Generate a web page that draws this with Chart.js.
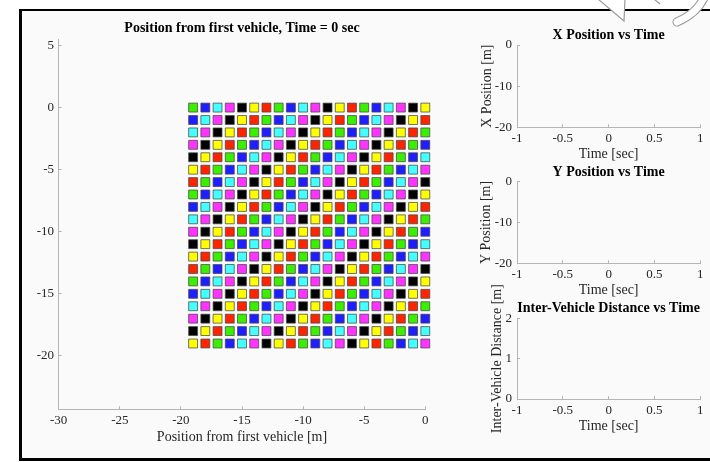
<!DOCTYPE html>
<html>
<head>
<meta charset="utf-8">
<script src="https://cdn.jsdelivr.net/npm/chart.js@4.4.0/dist/chart.umd.min.js"></script>
<style>
  html, body { margin: 0; padding: 0; }
  body { width: 710px; height: 462px; overflow: hidden; position: relative; background: #fff; }
  #frame {
    position: absolute; left: 19px; top: 9px; width: 700px; height: 447px;
    background: #fafafa;
    border-top: 2px solid #000; border-left: 3px solid #000; border-bottom: 3px solid #000;
  }
  #deco { position: absolute; left: 0; top: 0; }
  canvas { position: absolute; }
</style>
</head>
<body>
<div id="frame"></div>
<svg id="deco" width="710" height="30">
  <path d="M598,-1 L624,21 L625,-1" fill="#fff" stroke="#9a9a9a" stroke-width="1.2"/>
  <path d="M654,-1 L660,4" stroke="#9a9a9a" stroke-width="1.2"/>
  <path d="M704,-2 Q696,14 677,22" fill="none" stroke="#9a9a9a" stroke-width="9" stroke-linecap="round"/>
  <path d="M704,-2 Q696,14 677,22" fill="none" stroke="#fff" stroke-width="7" stroke-linecap="round"/>
</svg>
<canvas id="platoonChart"></canvas>
<canvas id="xPosChart"></canvas>
<canvas id="yPosChart"></canvas>
<canvas id="gapChart"></canvas>
<script>
// vehicle grid (position from first vehicle, metres)
const columnX = [-19, -18, -17, -16, -15, -14, -13, -12, -11, -10, -9, -8, -7, -6, -5, -4, -3, -2, -1, 0];
const rowY = [0, -1, -2, -3, -4, -5, -6, -7, -8, -9, -10, -11, -12, -13, -14, -15, -16, -17, -18, -19];

// marker colour of each vehicle, one string per row, read left to right
const rowColours = [
  "GBCMKYRGBCMKYRGBCMKY",
  "BCMKYRGBCMKYRGBCMKYR",
  "CMKYRGBCMKYRGBCMKYRG",
  "MKYRGBCMKYRGBCMKYRGB",
  "KYRGBCMKYRGBCMKYRGBC",
  "YRGBCMKYRGBCMKYRGBCM",
  "RGBCMKYRGBCMKYRGBCMK",
  "GBCMKYRGBCMKYRGBCMKY",
  "BCMKYRGBCMKYRGBCMKYR",
  "CMKYRGBCMKYRGBCMKYRG",
  "MKYRGBCMKYRGBCMKYRGB",
  "KYRGBCMKYRGBCMKYRGBC",
  "YRGBCMKYRGBCMKYRGBCM",
  "RGBCMKYRGBCMKYRGBCMK",
  "GBCMKYRGBCMKYRGBCMKY",
  "BCMKYRGBCMKYRGBCMKYR",
  "CMKYRGBCMKYRGBCMKYRG",
  "MKYRGBCMKYRGBCMKYRGB",
  "KYRGBCMKYRGBCMKYRGBC",
  "YRGBCMKYRGBCMKYRGBCM",
];
const colourKey = {
  G: "#3af000", B: "#1e1eff", C: "#44ffff", M: "#ff33ff",
  K: "#000000", Y: "#ffff00", R: "#ff2400",
};

const platoonXTicks = [-30, -25, -20, -15, -10, -5, 0];
const platoonYTicks = [5, 0, -5, -10, -15, -20];
const timeTicks = [-1, -0.5, 0, 0.5, 1];
const positionTicks = [-20, -10, 0];
const distanceTicks = [0, 1, 2];

// time series are still empty at t = 0
const xPositionSeries = [];
const yPositionSeries = [];
const distanceSeries = [];

const serif = "'Liberation Serif', 'Times New Roman', serif";
const textColour = "#262626";
const axisColour = "#b5b5b5";

function scaleOpts(min, max, tickValues, title, tickPad, titlePad, fitFn) {
  return {
    type: "linear",
    min: min,
    max: max,
    afterBuildTicks: (s) => {
      s.ticks = tickValues.map((v) => ({ value: v }));
    },
    afterFit: fitFn,
    grid: { drawOnChartArea: false, drawTicks: true, tickLength: -3, color: axisColour },
    border: { display: true, color: axisColour, width: 1 },
    ticks: {
      autoSkip: false, maxRotation: 0, padding: tickPad, color: textColour,
      font: { family: serif, size: 13 },
      callback: (value) => String(value),
    },
    title: {
      display: !!title, text: title, color: textColour, padding: titlePad,
      font: { family: serif, size: 14 },
    },
  };
}

// box = canvas placement, area = wanted plot rectangle (page pixels)
function makeChart(id, box, area, cfg) {
  const canvas = document.getElementById(id);
  canvas.width = box.w;
  canvas.height = box.h;
  canvas.style.left = box.x + "px";
  canvas.style.top = box.y + "px";

  const yWidth = area.left - box.x;
  const xHeight = cfg.xTitleY - area.bottom + 9.4;
  const titleTop = cfg.titleY - box.y - 8.4;
  const titleBottom = area.top - cfg.titleY - 8.4;
  const yTitlePad = cfg.yTitleX ? cfg.yTitleX - box.x - 8.4 : 0;

  return new Chart(canvas, {
    type: "scatter",
    data: { datasets: cfg.datasets },
    options: {
      responsive: false,
      animation: false,
      events: [],
      layout: {
        padding: {
          left: 0,
          top: titleTop,
          right: box.x + box.w - area.right,
          bottom: box.h - (area.bottom - box.y) - xHeight,
        },
      },
      plugins: {
        legend: { display: false },
        tooltip: { enabled: false },
        title: {
          display: true,
          text: cfg.title,
          fullSize: false,
          color: "#000",
          font: { family: serif, size: 14, weight: "bold" },
          padding: { top: 0, bottom: titleBottom },
        },
      },
      scales: {
        x: scaleOpts(cfg.xMin, cfg.xMax, cfg.xTicks, cfg.xTitle, 6.5, { top: 0, bottom: 1 },
          (s) => { s.height = xHeight; }),
        y: scaleOpts(cfg.yMin, cfg.yMax, cfg.yTicks, cfg.yTitle, cfg.yTickPad, { top: yTitlePad, bottom: 0 },
          (s) => { s.width = yWidth; }),
      },
    },
  });
}

// main grid of vehicles
const vehiclePoints = [];
const vehicleColours = [];
rowY.forEach((y, r) => {
  columnX.forEach((x, c) => {
    vehiclePoints.push({ x: x, y: y });
    vehicleColours.push(colourKey[rowColours[r][c]]);
  });
});

makeChart("platoonChart",
  { x: 22, y: 12, w: 420, h: 446 },
  { left: 58.7, top: 39.3, right: 425.3, bottom: 409.3 },
  {
    title: "Position from first vehicle, Time = 0 sec",
    titleY: 28,
    xTitle: "Position from first vehicle [m]",
    xTitleY: 437.3,
    yTitle: "",
    xMin: -30, xMax: 0, xTicks: platoonXTicks,
    yMin: -24.3, yMax: 5.5, yTicks: platoonYTicks,
    yTickPad: 7.7,
    datasets: [{
      data: vehiclePoints,
      clip: false,
      pointStyle: "rect",
      pointRadius: 6.3,
      pointBackgroundColor: vehicleColours,
      pointBorderColor: "rgba(70,70,70,0.75)",
      pointBorderWidth: 1,
      showLine: false,
    }],
  });

function timeSeries(data) {
  return [{ data: data, showLine: true, borderColor: "#0072bd", borderWidth: 1.5, pointRadius: 0 }];
}

makeChart("xPosChart",
  { x: 440, y: 20, w: 270, h: 145 },
  { left: 517, top: 45, right: 702, bottom: 127.3 },
  {
    title: "X Position vs Time", titleY: 35.5,
    xTitle: "Time [sec]", xTitleY: 154,
    yTitle: "X Position [m]", yTitleX: 487.5,
    xMin: -1, xMax: 1, xTicks: timeTicks,
    yMin: -20, yMax: 0, yTicks: positionTicks,
    yTickPad: 8,
    datasets: timeSeries(xPositionSeries),
  });

makeChart("yPosChart",
  { x: 440, y: 160, w: 270, h: 140 },
  { left: 517, top: 181.7, right: 702, bottom: 263.3 },
  {
    title: "Y Position vs Time", titleY: 172,
    xTitle: "Time [sec]", xTitleY: 290.7,
    yTitle: "Y Position [m]", yTitleX: 486.5,
    xMin: -1, xMax: 1, xTicks: timeTicks,
    yMin: -20, yMax: 0, yTicks: positionTicks,
    yTickPad: 8,
    datasets: timeSeries(yPositionSeries),
  });

makeChart("gapChart",
  { x: 440, y: 275, w: 270, h: 180 },
  { left: 517, top: 318.3, right: 702, bottom: 399 },
  {
    title: "Inter-Vehicle Distance vs Time", titleY: 308,
    xTitle: "Time [sec]", xTitleY: 426.7,
    yTitle: "Inter-Vehicle Distance [m]", yTitleX: 497.5,
    xMin: -1, xMax: 1, xTicks: timeTicks,
    yMin: 0, yMax: 2, yTicks: distanceTicks,
    yTickPad: 8,
    datasets: timeSeries(distanceSeries),
  });
</script>
</body>
</html>
